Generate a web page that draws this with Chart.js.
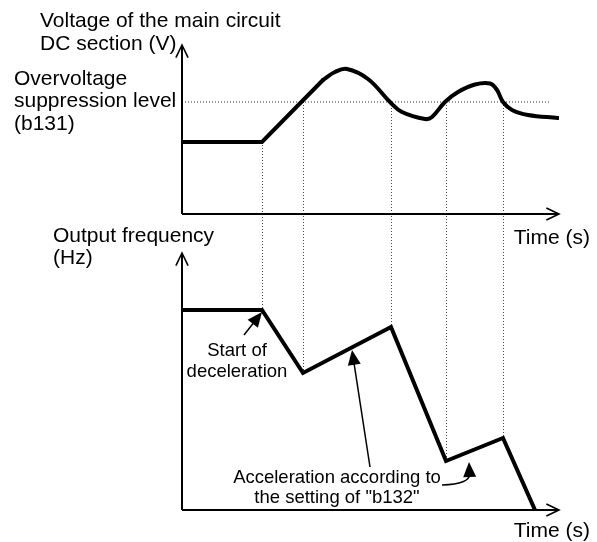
<!DOCTYPE html>
<html>
<head>
<meta charset="utf-8">
<title>Overvoltage suppression during deceleration</title>
<script src="https://cdn.jsdelivr.net/npm/chart.js@4/dist/chart.umd.min.js"></script>
<style>
  html, body { margin: 0; padding: 0; background: #fff; }
  canvas { display: block; }
</style>
</head>
<body>
<canvas id="timingChart" width="597" height="542"></canvas>
<script>
// Time axis runs in arbitrary units (same scale for both traces)
const timeMax = 18.85

// DC bus voltage: steady level, then a linear rise once deceleration starts
const rampTime = [0, 4.0, 7.05]
const rampVolt = [7.2, 7.2, 13.4]
// ...then the smooth overshoot / recovery part
const curveTime = [7.05, 7.65, 8.25, 9.3, 10.4, 11.0, 12.15, 12.5, 13.15, 13.8, 14.65, 15.4, 15.75, 16.05, 16.5, 17.3, 18.8]
const curveVolt = [13.4, 14.2, 14.5, 13.5, 11.2, 10.2, 9.5, 9.7, 11.2, 12.2, 12.95, 13.05, 12.4, 11.2, 10.4, 9.9, 9.6]

// Overvoltage suppression level (b131)
const levelVolt = 11.2
const levelEnd = 18.45
const voltMin = -3.9
const voltMax = 16.9

// Output frequency
const freqTime = [0, 4.0, 6.05, 10.45, 13.2, 16.05, 17.65]
const freqValue = [20, 20, 13.7, 18.3, 4.9, 7.2, 0]
const freqMax = 25.7

// Switching instants linking the two traces
const eventTime = [4.0, 6.05, 10.45, 13.2, 16.05]
const eventVolt = [7.2, 11.2, 11.2, 11.2, 11.2]
const eventFreq = [20, 13.7, 18.3, 4.9, 7.2]

// Callout arrows on the frequency trace [from, to]
const decelArrow = [{ x: 3.1, y: 17.5 }, { x: 4.0, y: 19.8 }]
const accelArrow = [{ x: 9.4, y: 4.3 }, { x: 8.5, y: 16.0 }]
const curvedArrow = [{ x: 13.0, y: 2.5 }, { x: 14.4, y: 2.6 }, { x: 14.35, y: 4.8 }]

const FONT = '"Liberation Sans", Arial, sans-serif'

const toPoints = (xs, ys) => xs.map((x, i) => ({ x: x, y: ys[i] }))

function openArrowHead(ctx, x, y, angle) {
  const len = 14
  const spread = 0.45
  ctx.beginPath()
  ctx.moveTo(x - len * Math.cos(angle - spread), y - len * Math.sin(angle - spread))
  ctx.lineTo(x, y)
  ctx.lineTo(x - len * Math.cos(angle + spread), y - len * Math.sin(angle + spread))
  ctx.stroke()
}

function solidArrowHead(ctx, x, y, angle) {
  const len = 15
  const half = 6.5
  const bx = x - len * Math.cos(angle)
  const by = y - len * Math.sin(angle)
  ctx.beginPath()
  ctx.moveTo(x, y)
  ctx.lineTo(bx + half * Math.sin(angle), by - half * Math.cos(angle))
  ctx.lineTo(bx - half * Math.sin(angle), by + half * Math.cos(angle))
  ctx.closePath()
  ctx.fill()
}

const diagramPlugin = {
  id: "diagram",
  beforeDatasetsDraw(chart) {
    const { ctx, scales } = chart
    const { x, yV, yF } = scales
    // dotted drop lines from the voltage trace to the frequency trace
    ctx.save()
    ctx.strokeStyle = "#444"
    ctx.lineWidth = 1
    ctx.setLineDash([1, 2])
    eventTime.forEach((t, i) => {
      const px = Math.round(x.getPixelForValue(t)) + 0.5
      ctx.beginPath()
      ctx.moveTo(px, yV.getPixelForValue(eventVolt[i]))
      ctx.lineTo(px, yF.getPixelForValue(eventFreq[i]))
      ctx.stroke()
    })
    ctx.restore()
  },
  afterDatasetsDraw(chart) {
    const { ctx, scales } = chart
    const { x, yV, yF } = scales
    const x0 = x.getPixelForValue(0)
    const xEnd = x.getPixelForValue(timeMax)

    ctx.save()
    ctx.strokeStyle = "#000"
    ctx.fillStyle = "#000"
    ctx.lineWidth = 2
    ctx.setLineDash([])

    // axes with open arrow heads
    ;[
      [yV, voltMax],
      [yF, freqMax],
    ].forEach(([ys, top]) => {
      const y0 = ys.getPixelForValue(0)
      const yTop = ys.getPixelForValue(top)
      ctx.beginPath()
      ctx.moveTo(x0, y0)
      ctx.lineTo(x0, yTop)
      ctx.moveTo(x0, y0)
      ctx.lineTo(xEnd, y0)
      ctx.stroke()
      ctx.lineWidth = 1.6
      openArrowHead(ctx, x0, yTop, -Math.PI / 2)
      openArrowHead(ctx, xEnd, y0, 0)
      ctx.lineWidth = 2
    })

    // straight callouts
    ctx.lineWidth = 1.5
    ;[decelArrow, accelArrow].forEach(([from, to]) => {
      const fx = x.getPixelForValue(from.x)
      const fy = yF.getPixelForValue(from.y)
      const tx = x.getPixelForValue(to.x)
      const ty = yF.getPixelForValue(to.y)
      const ang = Math.atan2(ty - fy, tx - fx)
      ctx.beginPath()
      ctx.moveTo(fx, fy)
      ctx.lineTo(tx - 12 * Math.cos(ang), ty - 12 * Math.sin(ang))
      ctx.stroke()
      solidArrowHead(ctx, tx, ty, ang)
    })

    // curved callout
    const [c0, c1, c2] = curvedArrow.map((p) => ({
      x: x.getPixelForValue(p.x),
      y: yF.getPixelForValue(p.y),
    }))
    const cAng = Math.atan2(c2.y - c1.y, c2.x - c1.x)
    ctx.beginPath()
    ctx.moveTo(c0.x, c0.y)
    ctx.quadraticCurveTo(c1.x, c1.y, c2.x - 12 * Math.cos(cAng), c2.y - 12 * Math.sin(cAng))
    ctx.stroke()
    solidArrowHead(ctx, c2.x, c2.y, cAng)

    // labels
    ctx.textBaseline = "alphabetic"
    ctx.font = "21px " + FONT
    ctx.textAlign = "left"
    ctx.fillText("Voltage of the main circuit", 40, 27)
    ctx.fillText("DC section (V)", 40, 50)
    ctx.fillText("Overvoltage", 14, 85)
    ctx.fillText("suppression level", 14, 107)
    ctx.fillText("(b131)", 14, 130)
    ctx.fillText("Output frequency", 53, 242)
    ctx.fillText("(Hz)", 53, 264)
    ctx.textAlign = "right"
    ctx.fillText("Time (s)", 590, 244)
    ctx.fillText("Time (s)", 590, 537)

    ctx.font = "18.5px " + FONT
    ctx.textAlign = "center"
    ctx.fillText("Start of", 237, 356)
    ctx.fillText("deceleration", 237, 377)
    ctx.fillText("Acceleration according to", 337, 483)
    ctx.fillText('the setting of "b132"', 337, 503)
    ctx.restore()
  },
}

const traceStyle = {
  borderColor: "#000",
  borderWidth: 4,
  pointRadius: 0,
  fill: false,
  borderJoinStyle: "miter",
}

new Chart(document.getElementById("timingChart"), {
  type: "line",
  data: {
    datasets: [
      {
        ...traceStyle,
        label: "Voltage ramp",
        data: toPoints(rampTime, rampVolt),
        yAxisID: "yV",
        tension: 0,
        borderCapStyle: "round",
      },
      {
        ...traceStyle,
        label: "Voltage",
        data: toPoints(curveTime, curveVolt),
        yAxisID: "yV",
        tension: 0.4,
        borderCapStyle: "round",
      },
      {
        label: "Overvoltage suppression level",
        data: [{ x: 0, y: levelVolt }, { x: levelEnd, y: levelVolt }],
        yAxisID: "yV",
        borderColor: "#333",
        borderWidth: 1,
        borderDash: [1, 2],
        pointRadius: 0,
        fill: false,
      },
      {
        ...traceStyle,
        label: "Output frequency",
        data: toPoints(freqTime, freqValue),
        yAxisID: "yF",
        tension: 0,
      },
    ],
  },
  options: {
    responsive: false,
    animation: false,
    events: [],
    layout: { padding: { left: 182, right: 38, top: 45, bottom: 32 } },
    plugins: { legend: { display: false }, tooltip: { enabled: false } },
    scales: {
      x: { type: "linear", min: 0, max: timeMax, display: false },
      yV: {
        type: "linear",
        position: "left",
        stack: "traces",
        stackWeight: voltMax - voltMin,
        weight: 1,
        min: voltMin,
        max: voltMax,
        display: false,
      },
      yF: {
        type: "linear",
        position: "left",
        stack: "traces",
        stackWeight: freqMax,
        weight: 0,
        min: 0,
        max: freqMax,
        display: false,
      },
    },
  },
  plugins: [diagramPlugin],
})
</script>
</body>
</html>
